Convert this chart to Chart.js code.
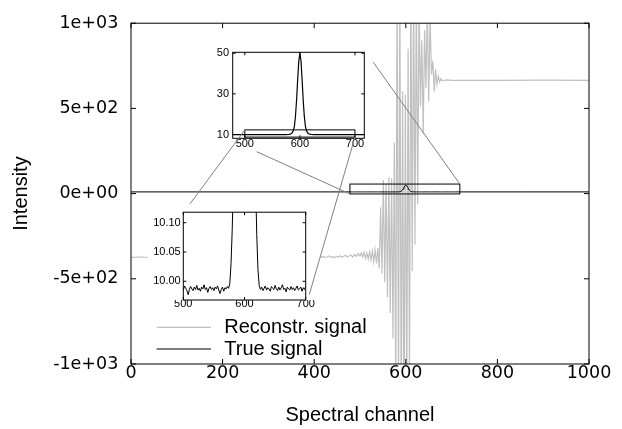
<!DOCTYPE html>
<html>
<head>
<meta charset="utf-8">
<script src="https://cdn.jsdelivr.net/npm/chart.js@4.4.0/dist/chart.umd.min.js"></script>
<style>
  body { margin: 0; background: #fff; }
  #wrap { position: relative; width: 622px; height: 429px; }
  #wrap canvas { position: absolute; }
</style>
</head>
<body>
<div id="wrap">
  <canvas id="mainChart" width="622" height="429" style="left:0;top:0"></canvas>
  <canvas id="topInset" width="170" height="115" style="left:200px;top:42px;background:#fff"></canvas>
  <canvas id="lowInset" width="172" height="110" style="left:148px;top:203px;background:#fff"></canvas>
  <canvas id="links" width="622" height="429" style="left:0;top:0;pointer-events:none"></canvas>
</div>
<script>
// ---- data ----
// true signal: flat baseline ~10 with a peak of 50 at channel 600
const trueX = [0, 240, 478,
  480, 482, 484, 486, 488, 490, 492, 494, 496, 498,
  500, 502, 504, 506, 508, 510, 512, 514, 516, 518,
  520, 522, 524, 526, 528, 530, 532, 534, 536, 538,
  540, 542, 544, 546, 548, 550, 552, 554, 556, 558,
  560, 562, 564, 566, 568, 570, 572, 574,
  576, 578, 580, 582, 584, 586, 588, 590, 592, 594, 596, 598, 600,
  602, 604, 606, 608, 610, 612, 614, 616, 618, 620, 622, 624,
  626, 628, 630, 632, 634, 636, 638, 640, 642, 644,
  646, 648, 650, 652, 654, 656, 658, 660, 662, 664,
  666, 668, 670, 672, 674, 676, 678, 680, 682, 684,
  686, 688, 690, 692, 694, 696, 698, 700, 702, 704,
  706, 708, 710, 712, 714, 716, 718, 720,
  860, 1000];
const trueY = [9.99, 9.99, 9.988,
  9.987, 9.991, 9.984, 9.989, 9.993, 9.986, 9.988, 9.982, 9.990, 9.987,
  9.985, 9.992, 9.988, 9.984, 9.977, 9.986, 9.991, 9.987, 9.984, 9.990,
  9.986, 9.993, 9.985, 9.988, 9.983, 9.990, 9.987, 9.994, 9.986, 9.989,
  9.981, 9.988, 9.991, 9.986, 9.989, 9.984, 9.990, 9.987, 9.992, 9.985,
  9.979, 9.986, 9.990, 9.983, 9.989, 9.987, 9.991, 9.988,
  9.996, 10.03, 10.09, 10.19, 10.42, 10.85, 11.8, 14.0, 19.0, 27.0, 37.0, 46.0, 50.0,
  46.3, 37.2, 27.1, 19.2, 14.1, 11.8, 10.86, 10.41, 10.18, 10.08, 10.02, 9.993,
  9.986, 9.990, 9.984, 9.988, 9.992, 9.985, 9.989, 9.987, 9.983, 9.991,
  9.988, 9.986, 9.993, 9.987, 9.984, 9.990, 9.985, 9.989, 9.994, 9.986,
  9.988, 9.982, 9.990, 9.987, 9.985, 9.991, 9.986, 9.989, 9.984, 9.988,
  9.992, 9.985, 9.987, 9.990, 9.983, 9.989, 9.986, 9.991, 9.987, 9.984,
  9.990, 9.986, 9.988, 9.985, 9.989, 9.987, 9.983, 9.988,
  9.99, 9.99];

// reconstructed signal: offset baseline, heavy ringing around the peak
const reconX = [0, 20, 40, 60, 100, 140, 180, 220, 260, 300, 340, 380,
  400, 404, 408, 412, 416, 420, 424, 428, 432, 436, 440, 444, 448, 452, 456,
  460, 464, 468, 472, 476, 480, 484, 488, 492, 496,
  500, 503, 506, 509, 512, 515, 518, 521, 524, 527,
  530, 533, 536, 539, 542, 545, 548, 551, 554, 557,
  560, 563, 566, 569, 572, 575, 578, 581, 584, 587,
  590, 593, 596, 599, 602, 605, 608, 611, 614, 617,
  620, 623, 626, 629, 632, 635, 638, 641, 644, 647,
  650, 653, 656, 659, 662, 665, 668, 671, 674, 677,
  680, 685, 690, 700, 800, 900, 1000];
const reconY = [-374, -372, -375, -373, -374, -372, -375, -373, -374, -372, -373, -375,
  -372, -370, -376, -371, -374, -369, -375, -372, -366, -373, -370, -377, -368, -372, -365,
  -374, -369, -362, -371, -366, -360, -372, -358, -368, -352,
  -366, -348, -372, -345, -380, -350, -385, -340, -390, -335,
  -400, -330, -410, -320, -440, -80, -470, 80, -520, 60,
  -610, 94, -700, 90, -850, 300, -1200, 1300, -1300, 1250,
  -1400, 600, -1500, 580, -1300, 850, -1100, 1300, -455, 1250,
  -300, 1200, -63, 1150, 512, 900, 350, 960, 620, 1100,
  540, 1050, 700, 780, 600, 730, 640, 690, 655, 675,
  662, 665, 667, 665, 665, 666, 665];

// main axes
const mainXTicks = [0, 200, 400, 600, 800, 1000];
const mainXLabels = ['0', '200', '400', '600', '800', '1000'];
const mainYTicks = [-1000, -500, 0, 500, 1000];
const mainYLabels = ['-1e+03', '-5e+02', '0e+00', '5e+02', '1e+03'];

// zoom window marked on the main plot
const zoomMainX = [478, 718];
const zoomMainY = [-2, 56];

// upper inset
const topRangeX = [478, 717];
const topRangeY = [8.15, 50.46];
const topXTicks = [500, 600, 700];
const topXLabels = ['500', '600', '700'];
const topYTicks = [10, 30, 50];
const topYLabels = ['10', '30', '50'];
const innerBoxX = [500, 700];
const innerBoxY = [8.75, 12.3];

// lower inset
const lowRangeX = [500, 700];
const lowRangeY = [9.968, 10.118];
const lowXTicks = [500, 600, 700];
const lowXLabels = ['500', '600', '700'];
const lowYTicks = [10.00, 10.05, 10.10];
const lowYLabels = ['10.00', '10.05', '10.10'];

Chart.defaults.font.family = 'Liberation Sans';
Chart.defaults.color = '#000';

function pts(xs, ys) {
  return xs.map((x, i) => ({ x: x, y: ys[i] }));
}
function fixTicks(values) {
  return scale => { scale.ticks = values.map(v => ({ value: v })); };
}
function labelsFrom(values, labels) {
  return v => { const i = values.indexOf(v); return i < 0 ? '' : labels[i]; };
}

// gnuplot style frame: box plus inward ticks on all four sides
const frameTicks = {
  id: 'frameTicks',
  afterDatasetsDraw(chart, args, o) {
    const { ctx, chartArea: a, scales: { x, y } } = chart;
    ctx.save();
    ctx.strokeStyle = '#000';
    ctx.lineWidth = 1;
    ctx.beginPath();
    x.ticks.forEach(t => {
      const px = x.getPixelForValue(t.value);
      ctx.moveTo(px, a.bottom); ctx.lineTo(px, a.bottom - o.len);
      ctx.moveTo(px, a.top); ctx.lineTo(px, a.top + o.len);
    });
    y.ticks.forEach(t => {
      const py = y.getPixelForValue(t.value);
      ctx.moveTo(a.left, py); ctx.lineTo(a.left + o.len, py);
      ctx.moveTo(a.right, py); ctx.lineTo(a.right - o.len, py);
    });
    ctx.stroke();
    ctx.strokeRect(a.left, a.top, a.right - a.left, a.bottom - a.top);
    ctx.restore();
  }
};

// rectangle given in data units
const dataBox = {
  id: 'dataBox',
  afterDatasetsDraw(chart, args, o) {
    const { ctx, scales: { x, y } } = chart;
    const x0 = x.getPixelForValue(o.x[0]), x1 = x.getPixelForValue(o.x[1]);
    const y0 = y.getPixelForValue(o.y[0]), y1 = y.getPixelForValue(o.y[1]);
    ctx.save();
    ctx.strokeStyle = '#000';
    ctx.lineWidth = 1;
    ctx.strokeRect(x0, y1, x1 - x0, y0 - y1);
    ctx.restore();
  }
};

// legend inside the plot, lower left
const keyBox = {
  id: 'keyBox',
  afterDraw(chart, args, o) {
    const { ctx, chartArea: a } = chart;
    ctx.save();
    ctx.font = '20px "Liberation Sans"';
    ctx.textBaseline = 'middle';
    ctx.fillStyle = '#000';
    o.order.forEach((di, row) => {
      const ds = chart.data.datasets[di];
      const yy = a.bottom - o.rows[row];
      ctx.strokeStyle = ds.borderColor;
      ctx.lineWidth = ds.borderWidth;
      ctx.beginPath();
      ctx.moveTo(a.left + o.lineFrom, yy);
      ctx.lineTo(a.left + o.lineTo, yy);
      ctx.stroke();
      ctx.fillText(ds.label, a.left + o.textAt, yy);
    });
    ctx.restore();
  }
};

const mainChart = new Chart(document.getElementById('mainChart'), {
  type: 'line',
  data: {
    datasets: [
      { label: 'True signal', data: pts(trueX, trueY), borderColor: '#000000', borderWidth: 1, order: 0 },
      { label: 'Reconstr. signal', data: pts(reconX, reconY), borderColor: '#c0c0c0', borderWidth: 1.2, order: 1 }
    ]
  },
  options: {
    responsive: false,
    animation: false,
    events: [],
    clip: 0,
    layout: { padding: { top: 15, right: 33, bottom: 0, left: 0 } },
    elements: { point: { radius: 0 }, line: { tension: 0 } },
    plugins: {
      legend: { display: false },
      tooltip: { enabled: false },
      frameTicks: { len: 5 },
      dataBox: { x: zoomMainX, y: zoomMainY },
      keyBox: { order: [1, 0], rows: [36.7, 15], lineFrom: 25.7, lineTo: 80, textAt: 93.3 }
    },
    scales: {
      x: {
        type: 'linear', min: 0, max: 1000,
        grid: { display: false, drawTicks: false }, border: { display: false },
        afterFit: s => { s.height = 65; },
        afterBuildTicks: fixTicks(mainXTicks),
        ticks: { autoSkip: false, maxRotation: 0, padding: 1, callback: labelsFrom(mainXTicks, mainXLabels), font: { family: 'DejaVu Sans', size: 17.5, lineHeight: 1 } },
        title: { display: true, text: 'Spectral channel', font: { size: 20 }, padding: { top: 0, bottom: 2 } }
      },
      y: {
        type: 'linear', min: -1000, max: 1000,
        grid: { display: false, drawTicks: false }, border: { display: false },
        afterFit: s => { s.width = 131; },
        afterBuildTicks: fixTicks(mainYTicks),
        ticks: { autoSkip: false, padding: 12.7, callback: labelsFrom(mainYTicks, mainYLabels), font: { family: 'DejaVu Sans', size: 17.5 } },
        title: { display: true, text: 'Intensity', font: { size: 20 }, padding: { top: 9, bottom: 0 } }
      }
    }
  },
  plugins: [frameTicks, dataBox, keyBox]
});

function insetOptions(rx, ry, xt, xlab, yt, ylab, pad, yw, xh, ypad, xpad, extra) {
  return {
    responsive: false,
    animation: false,
    events: [],
    clip: 0,
    layout: { padding: pad },
    elements: { point: { radius: 0 }, line: { tension: 0 } },
    plugins: Object.assign({ legend: { display: false }, tooltip: { enabled: false }, frameTicks: { len: 3 } }, extra),
    scales: {
      x: {
        type: 'linear', min: rx[0], max: rx[1],
        grid: { display: false, drawTicks: false }, border: { display: false },
        afterFit: s => { s.height = xh; },
        afterBuildTicks: fixTicks(xt),
        ticks: { autoSkip: false, maxRotation: 0, padding: xpad, font: { size: 11, lineHeight: 1 }, callback: labelsFrom(xt, xlab) }
      },
      y: {
        type: 'linear', min: ry[0], max: ry[1],
        grid: { display: false, drawTicks: false }, border: { display: false },
        afterFit: s => { s.width = yw; },
        afterBuildTicks: fixTicks(yt),
        ticks: { autoSkip: false, padding: ypad, font: { size: 11 }, callback: labelsFrom(yt, ylab) }
      }
    }
  };
}

const topChart = new Chart(document.getElementById('topInset'), {
  type: 'line',
  data: { datasets: [{ label: 'True signal', data: pts(trueX, trueY), borderColor: '#000000', borderWidth: 1.2 }] },
  options: insetOptions(topRangeX, topRangeY, topXTicks, topXLabels, topYTicks, topYLabels,
    { top: 4.7, right: 5.7, bottom: 0, left: 0 }, 32.7, 18.7, 3.7, 0.5,
    { dataBox: { x: innerBoxX, y: innerBoxY } }),
  plugins: [frameTicks, dataBox]
});

const lowChart = new Chart(document.getElementById('lowInset'), {
  type: 'line',
  data: { datasets: [{ label: 'True signal', data: pts(trueX, trueY), borderColor: '#000000', borderWidth: 1 }] },
  options: insetOptions(lowRangeX, lowRangeY, lowXTicks, lowXLabels, lowYTicks, lowYLabels,
    { top: 4.7, right: 14.3, bottom: 0, left: 0 }, 35.3, 13, 2.6, -1.5, {}),
  plugins: [frameTicks]
});

// connector lines between the zoom windows and the insets
function dataPos(chart, xv, yv) {
  const c = chart.canvas;
  return [c.offsetLeft + chart.scales.x.getPixelForValue(xv), c.offsetTop + chart.scales.y.getPixelForValue(yv)];
}
function areaPos(chart, side, dx, dy) {
  const c = chart.canvas, a = chart.chartArea;
  const bx = side[0] === 'l' ? a.left : a.right;
  const by = side[1] === 't' ? a.top : a.bottom;
  return [c.offsetLeft + bx + dx, c.offsetTop + by + dy];
}

const linkCtx = document.getElementById('links').getContext('2d');
const linkList = [
  [dataPos(mainChart, zoomMainX[1], zoomMainY[1]), areaPos(topChart, 'rt', 9, 10)],
  [dataPos(mainChart, zoomMainX[0], zoomMainY[0]), areaPos(topChart, 'lb', 24, 13.4)],
  [dataPos(topChart, innerBoxX[0], innerBoxY[1]), areaPos(lowChart, 'lt', 6.7, -8.4)],
  [dataPos(topChart, innerBoxX[1], innerBoxY[0]), areaPos(lowChart, 'rt', 3.6, 82.3)]
];
linkCtx.strokeStyle = '#808080';
linkCtx.lineWidth = 1;
linkList.forEach(l => {
  linkCtx.beginPath();
  linkCtx.moveTo(l[0][0], l[0][1]);
  linkCtx.lineTo(l[1][0], l[1][1]);
  linkCtx.stroke();
});
</script>
</body>
</html>
